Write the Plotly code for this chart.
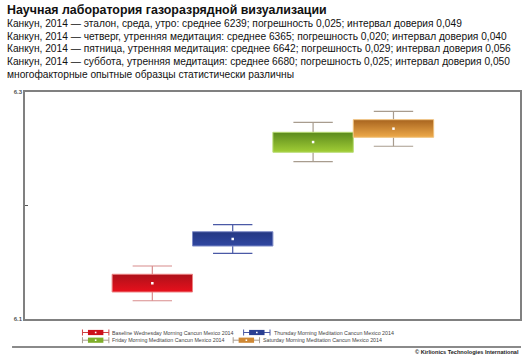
import plotly.graph_objects as go

# ---------------- data ----------------
groups = [
    "Baseline Wednesday Morning Cancun Mexico 2014",
    "Thursday Morning Meditation Cancun Mexico 2014",
    "Friday Morning Meditation Cancun Mexico 2014",
    "Saturday Morning Meditation Cancun Mexico 2014",
]
q1 = [6.1238, 6.1643, 6.2469, 6.2601]
q3 = [6.1394, 6.1769, 6.2645, 6.2756]
lower = [6.1161, 6.1579, 6.2386, 6.2522]
upper = [6.1467, 6.1831, 6.2733, 6.2830]
means = [6.1315, 6.1705, 6.2559, 6.2677]

y_tickvals = [6.1, 6.2, 6.3]
y_ticktext = ["6.1", "", "6.3"]

title_text = "Научная лаборатория газоразрядной визуализации"
header_lines = [
    "Канкун, 2014 — эталон, среда, утро: среднее 6239; погрешность 0,025; интервал доверия 0,049",
    "Канкун, 2014 — четверг, утренняя медитация: среднее 6365; погрешность 0,020; интервал доверия 0,040",
    "Канкун, 2014 — пятница, утренняя медитация: среднее 6642; погрешность 0,029; интервал доверия 0,056",
    "Канкун, 2014 — суббота, утренняя медитация: среднее 6680; погрешность 0,025; интервал доверия 0,050",
    "многофакторные опытные образцы статистически различны",
]
copyright_text = "© Kirlionics Technologies International"

# ---------------- styles ----------------
top_colors = ["#ad111a", "#243782", "#5b8a1c", "#a8641f"]
bottom_colors = ["#e8101c", "#3047a2", "#a2ce36", "#eeaa4a"]
mid_colors = ["#cc1019", "#2a3f92", "#7fae2a", "#cf8834"]
edge_colors = ["#ec8080", "#7f8cc8", "#b8dc74", "#f0c27e"]
whisker_colors = ["#d88c8c", "#4a59a6", "#a89c8e", "#a89c8e"]

W, H = 529, 357
ML, MR, MT, MB = 25, 7, 92, 38
PW, PH = W - ML - MR, H - MT - MB


def px_x(px):
    return (px - ML) / PW


def px_y(py):
    return 1 + (MT - py) / PH


FONT = "Liberation Sans, Arial, sans-serif"

fig = go.Figure()

box_half = 0.5
cap_half = 0.245
for i, name in enumerate(groups):
    xc = i + 1
    fig.add_trace(go.Scatter(
        x=[xc, xc, None, xc, xc, None, xc - cap_half, xc + cap_half, None, xc - cap_half, xc + cap_half],
        y=[lower[i], q1[i], None, q3[i], upper[i], None, upper[i], upper[i], None, lower[i], lower[i]],
        mode="lines", line=dict(color=whisker_colors[i], width=1.2),
        showlegend=False, hoverinfo="skip",
    ))
    fig.add_trace(go.Scatter(
        x=[xc - box_half, xc + box_half, xc + box_half, xc - box_half, xc - box_half],
        y=[q1[i], q1[i], q3[i], q3[i], q1[i]],
        mode="lines", fill="toself",
        fillgradient=dict(type="vertical", start=q1[i], stop=q3[i],
                          colorscale=[[0, bottom_colors[i]], [1, top_colors[i]]]),
        line=dict(color=edge_colors[i], width=1),
        name=name, showlegend=False,
    ))
    fig.add_trace(go.Scatter(
        x=[xc], y=[means[i]], mode="markers",
        marker=dict(color="white", size=2.5, symbol="square"),
        showlegend=False,
    ))

annotations = []
shapes = []

# header
annotations.append(dict(text="<b>" + title_text + "</b>", x=px_x(5), y=px_y(10), xref="paper", yref="paper",
                        xanchor="left", yanchor="middle", showarrow=False,
                        font=dict(family=FONT, size=12.4, color="#111")))
header_y = [23.5, 36, 48.7, 61.5, 74]
for t, yy in zip(header_lines, header_y):
    annotations.append(dict(text=t, x=px_x(5), y=px_y(yy), xref="paper", yref="paper",
                            xanchor="left", yanchor="middle", showarrow=False,
                            font=dict(family=FONT, size=10.2, color="#111")))

# custom compact legend
leg_pos = [(82.7, 332.5), (244.5, 332.5), (82.7, 340.2), (234.0, 340.2)]
for i, name in enumerate(groups):
    lx, ly = leg_pos[i]
    lw = 26.5
    c = whisker_colors[i] if i != 0 else "#d04040"
    shapes.append(dict(type="line", xref="paper", yref="paper", x0=px_x(lx), x1=px_x(lx + lw),
                       y0=px_y(ly), y1=px_y(ly), line=dict(color=c, width=1)))
    for cx in (lx, lx + lw):
        shapes.append(dict(type="line", xref="paper", yref="paper", x0=px_x(cx), x1=px_x(cx),
                           y0=px_y(ly - 3), y1=px_y(ly + 3), line=dict(color=c, width=1)))
    shapes.append(dict(type="rect", xref="paper", yref="paper", x0=px_x(lx + 5.5), x1=px_x(lx + lw - 5.5),
                       y0=px_y(ly - 2.6), y1=px_y(ly + 2.6), fillcolor=mid_colors[i],
                       line=dict(width=0)))
    shapes.append(dict(type="rect", xref="paper", yref="paper", x0=px_x(lx + lw / 2 - 0.8),
                       x1=px_x(lx + lw / 2 + 0.8), y0=px_y(ly - 0.8), y1=px_y(ly + 0.8),
                       fillcolor="white", line=dict(width=0)))
    annotations.append(dict(text=name, x=px_x(lx + lw + 1.5), y=px_y(ly), xref="paper", yref="paper",
                            xanchor="left", yanchor="middle", showarrow=False,
                            font=dict(family=FONT, size=5.3, color="#444")))

# bottom separator and copyright
shapes.append(dict(type="line", xref="paper", yref="paper", x0=px_x(12), x1=px_x(523),
                   y0=px_y(347), y1=px_y(347), line=dict(color="#8a8a8a", width=2)))
annotations.append(dict(text="<b>" + copyright_text + "</b>", x=px_x(523), y=px_y(351.5),
                        xref="paper", yref="paper", xanchor="right", yanchor="middle", showarrow=False,
                        font=dict(family=FONT, size=5.6, color="#222")))

fig.update_layout(
    width=W, height=H,
    margin=dict(l=ML, r=MR, t=MT, b=MB, pad=0),
    paper_bgcolor="white", plot_bgcolor="white",
    showlegend=False,
    xaxis=dict(range=[-0.584, 5.574], showticklabels=False, ticks="", showgrid=False, zeroline=False,
               showline=True, mirror=True, linecolor="#808080", linewidth=1.5),
    yaxis=dict(range=[6.1, 6.3], tickvals=y_tickvals, ticktext=y_ticktext, ticks="inside",
               ticklen=3, tickcolor="#555", showgrid=False, zeroline=False,
               showline=True, mirror=True, linecolor="#808080", linewidth=1.5,
               tickfont=dict(family=FONT, size=6, color="#555", weight="bold")),
    annotations=annotations,
    shapes=shapes,
)

fig.write_html("out.html")
